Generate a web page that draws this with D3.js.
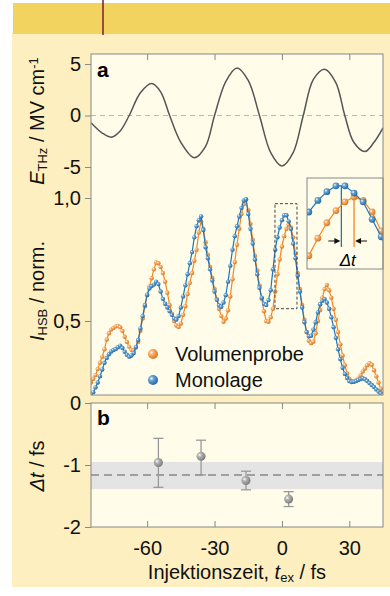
<!DOCTYPE html>
<html>
<head>
<meta charset="utf-8">
<script src="https://cdn.jsdelivr.net/npm/d3@7"></script>
<style>
  body { margin: 0; background: #fff; }
  svg { display: block; font-family: "Liberation Sans", Arial, sans-serif; }
</style>
</head>
<body>
<div id="chart"></div>
<script>
// THz field (fs, MV/cm)
var fieldTime = [-85, -80, -76, -72, -68, -63, -58, -54, -50, -45, -39, -34, -30, -25, -20, -15, -10, -5, 0, 5, 9.5, 14, 19, 24, 28, 32, 37, 41, 45];
var fieldValue = [-0.7, -1.7, -2.1, -1.5, 0, 2.2, 3.1, 2.3, 0, -2.6, -4.1, -3.0, 0, 3.3, 4.6, 3.4, 0, -3.6, -4.9, -3.6, 0, 3.5, 4.5, 3.2, 0, -2.6, -3.5, -2.6, -1.2];

// HSB intensity, sampled every 1 fs from -85 to 45 fs
var hsbTime = d3.range(-85, 46, 1);
var volumenprobe = [
  0.25, 0.265, 0.28, 0.305, 0.33, 0.355, 0.385, 0.425, 0.45, 0.465,
  0.472, 0.478, 0.48, 0.475, 0.46, 0.436, 0.415, 0.395, 0.383, 0.38,
  0.392, 0.416, 0.46, 0.51, 0.56, 0.605, 0.64, 0.674, 0.71, 0.738,
  0.735, 0.72, 0.695, 0.66, 0.615, 0.565, 0.53, 0.5, 0.482, 0.476,
  0.49, 0.525, 0.56, 0.61, 0.655, 0.695, 0.745, 0.79, 0.86, 0.905,
  0.875, 0.82, 0.77, 0.72, 0.675, 0.63, 0.59, 0.55, 0.52, 0.497,
  0.51, 0.543, 0.6, 0.67, 0.74, 0.81, 0.875, 0.935, 0.975, 0.993,
  0.95, 0.895, 0.83, 0.765, 0.705, 0.645, 0.59, 0.54, 0.5, 0.497,
  0.515, 0.55, 0.62, 0.69, 0.75, 0.803, 0.845, 0.875, 0.892, 0.88,
  0.84, 0.775, 0.695, 0.63, 0.565, 0.505, 0.455, 0.42, 0.41, 0.416,
  0.45, 0.5, 0.545, 0.595, 0.63, 0.647, 0.625, 0.595, 0.55, 0.505,
  0.455, 0.405, 0.36, 0.32, 0.287, 0.265, 0.255, 0.254, 0.258, 0.265,
  0.28, 0.295, 0.307, 0.32, 0.328, 0.322, 0.3, 0.275, 0.25, 0.225,
  0.2
];
var monolage = [
  0.19, 0.21, 0.23, 0.25, 0.275, 0.303, 0.33, 0.35, 0.365, 0.376,
  0.382, 0.386, 0.393, 0.4, 0.39, 0.375, 0.363, 0.355, 0.36, 0.37,
  0.395, 0.423, 0.47, 0.52, 0.565, 0.607, 0.632, 0.642, 0.648, 0.66,
  0.65, 0.62, 0.59, 0.57, 0.555, 0.54, 0.525, 0.51, 0.506, 0.52,
  0.555, 0.6, 0.645, 0.69, 0.735, 0.78, 0.84, 0.885, 0.91, 0.925,
  0.87, 0.8, 0.755, 0.71, 0.665, 0.62, 0.586, 0.563, 0.558, 0.575,
  0.605, 0.66, 0.725, 0.79, 0.845, 0.885, 0.925, 0.96, 0.99, 0.995,
  0.935, 0.875, 0.815, 0.75, 0.69, 0.635, 0.595, 0.57, 0.565, 0.585,
  0.625, 0.71, 0.79, 0.84, 0.88, 0.91, 0.93, 0.93, 0.905, 0.875,
  0.815, 0.755, 0.685, 0.62, 0.555, 0.495, 0.455, 0.438, 0.44, 0.465,
  0.495, 0.535, 0.568, 0.582, 0.589, 0.575, 0.55, 0.515, 0.475, 0.432,
  0.385, 0.345, 0.31, 0.285, 0.268, 0.256, 0.252, 0.253, 0.256, 0.26,
  0.264, 0.267, 0.263, 0.256, 0.248, 0.24, 0.232, 0.222, 0.213, 0.205,
  0.198
];

// peak positions shown in the inset (fs)
var peakMono = 1.6, peakVol = 3.0;
// zoom window marked by the dashed box
var boxTime = [-3.1, 6.7], boxHsb = [0.55, 0.977];

// panel b: delay per injection time
var bTime = [-55, -36, -16, 3];
var bDelay = [-0.96, -0.86, -1.25, -1.55];
var bErrLow = [-1.36, -1.16, -1.4, -1.67];
var bErrHigh = [-0.57, -0.6, -1.1, -1.43];
var bMean = -1.16, bBand = [-1.39, -0.95];

var xTicks = [-60, -30, 0, 30];

var orange = "#f5861f", blue = "#1f74ba";

var svg = d3.select("#chart").append("svg")
  .attr("width", 390).attr("height", 596);

// page background
svg.append("rect").attr("x", 12).attr("y", 32).attr("width", 378).attr("height", 555).attr("fill", "#fdefc0");
svg.append("rect").attr("x", 13).attr("y", 3).attr("width", 377).attr("height", 31).attr("fill", "#f3d35f");
svg.append("line").attr("x1", 103).attr("x2", 103).attr("y1", 0).attr("y2", 35)
  .attr("stroke", "#7a1e2c").attr("stroke-width", 1.5);

var defs = svg.append("defs");
function sphere(id, c) {
  var g = defs.append("radialGradient").attr("id", id)
    .attr("cx", "0.35").attr("cy", "0.35").attr("r", "0.7");
  g.append("stop").attr("offset", "0").attr("stop-color", "#ffffff");
  g.append("stop").attr("offset", "0.3").attr("stop-color", d3.interpolateRgb(c, "#fff")(0.35));
  g.append("stop").attr("offset", "1").attr("stop-color", d3.color(c).darker(0.4));
}
sphere("gOr", orange);
sphere("gBl", blue);
sphere("gGr", "#8a8a8a");

var L = 91, R = 383, aTop = 54, aBot = 395, bTop = 403, bBot = 527;

var x = d3.scaleLinear().domain([-85, 45]).range([L, R]);
var yE = d3.scaleLinear().domain([-5, 5]).range([167, 64]);
var yI = d3.scaleLinear().domain([0.5, 1]).range([321, 198]);
var yB = d3.scaleLinear().domain([-2, 0]).range([bBot, bTop]);

defs.append("clipPath").attr("id", "clipA").append("rect")
  .attr("x", L).attr("y", aTop).attr("width", R - L).attr("height", aBot - aTop);

// panels
svg.append("rect").attr("x", L).attr("y", aTop).attr("width", R - L).attr("height", aBot - aTop)
  .attr("fill", "#fffde9");
svg.append("rect").attr("x", L).attr("y", bTop).attr("width", R - L).attr("height", bBot - bTop)
  .attr("fill", "#fffde9");

var pa = svg.append("g").attr("clip-path", "url(#clipA)");

// zero line of field
pa.append("line").attr("x1", L).attr("x2", R).attr("y1", yE(0)).attr("y2", yE(0))
  .attr("stroke", "#b8b8b8").attr("stroke-dasharray", "5,4");

var fieldData = fieldTime.map(function (t, i) { return [t, fieldValue[i]]; });
pa.append("path").datum(fieldData)
  .attr("fill", "none").attr("stroke", "#555").attr("stroke-width", 1.5)
  .attr("d", d3.line().x(d => x(d[0])).y(d => yE(d[1])).curve(d3.curveCatmullRom));

function series(g, vals, color, grad, xs, ys, r) {
  var pts = hsbTime.map(function (t, i) { return [t, vals[i]]; });
  g.append("path").datum(pts)
    .attr("fill", "none").attr("stroke", color).attr("stroke-width", 1.2)
    .attr("d", d3.line().x(d => xs(d[0])).y(d => ys(d[1])));
  g.selectAll(null).data(pts).enter().append("circle")
    .attr("cx", d => xs(d[0])).attr("cy", d => ys(d[1])).attr("r", r)
    .attr("fill", "url(#" + grad + ")");
}
series(pa, volumenprobe, orange, "gOr", x, yI, 2.2);
series(pa, monolage, blue, "gBl", x, yI, 2.2);

// dashed zoom box
pa.append("rect")
  .attr("x", x(boxTime[0])).attr("y", yI(boxHsb[1]))
  .attr("width", x(boxTime[1]) - x(boxTime[0])).attr("height", yI(boxHsb[0]) - yI(boxHsb[1]))
  .attr("fill", "none").attr("stroke", "#444").attr("stroke-dasharray", "3,2");

// inset
var iL = 307, iR = 383, iT = 178, iB = 269;
var xi = d3.scaleLinear().domain([-2.2, 6.2]).range([iL, iR]);
var yi = d3.scaleLinear().domain([0.644, 0.957]).range([iB, iT]);
defs.append("clipPath").attr("id", "clipI").append("rect")
  .attr("x", iL).attr("y", iT).attr("width", iR - iL).attr("height", iB - iT);
svg.append("rect").attr("x", iL).attr("y", iT).attr("width", iR - iL).attr("height", iB - iT)
  .attr("fill", "#fffde9");
var gi = svg.append("g").attr("clip-path", "url(#clipI)");
var arrowY = 241;
gi.append("line").attr("x1", xi(peakMono)).attr("x2", xi(peakMono))
  .attr("y1", yi(0.93)).attr("y2", 247).attr("stroke", blue).attr("stroke-width", 1.3);
gi.append("line").attr("x1", xi(peakVol)).attr("x2", xi(peakVol))
  .attr("y1", yi(0.892)).attr("y2", 247).attr("stroke", orange).attr("stroke-width", 1.3);
series(gi, volumenprobe, orange, "gOr", xi, yi, 3.4);
series(gi, monolage, blue, "gBl", xi, yi, 3.4);
// arrows
var ax1 = xi(peakMono) - 1, ax2 = xi(peakVol) + 1;
gi.append("line").attr("x1", ax1 - 12).attr("x2", ax1 - 4).attr("y1", arrowY).attr("y2", arrowY)
  .attr("stroke", "#111").attr("stroke-width", 1);
gi.append("path").attr("d", "M" + ax1 + "," + arrowY + "l-6,-3l0,6z").attr("fill", "#111");
gi.append("line").attr("x1", ax2 + 4).attr("x2", ax2 + 12).attr("y1", arrowY).attr("y2", arrowY)
  .attr("stroke", "#111").attr("stroke-width", 1);
gi.append("path").attr("d", "M" + ax2 + "," + arrowY + "l6,-3l0,6z").attr("fill", "#111");
svg.append("text").attr("x", (xi(peakMono) + xi(peakVol)) / 2).attr("y", 266)
  .attr("text-anchor", "middle").style("font-size", "17px").style("font-style", "italic")
  .text("\u0394t");
svg.append("rect").attr("x", iL).attr("y", iT).attr("width", iR - iL).attr("height", iB - iT)
  .attr("fill", "none").attr("stroke", "#888");

// legend
var legend = [["Volumenprobe", "gOr", 354, 361], ["Monolage", "gBl", 380, 387]];
legend.forEach(function (d) {
  svg.append("circle").attr("cx", 153).attr("cy", d[2]).attr("r", 5).attr("fill", "url(#" + d[1] + ")");
  svg.append("text").attr("x", 175).attr("y", d[3]).style("font-size", "20px").attr("fill", "#111").text(d[0]);
});

// panel b
svg.append("rect").attr("x", L).attr("y", yB(bBand[1])).attr("width", R - L)
  .attr("height", yB(bBand[0]) - yB(bBand[1])).attr("fill", "#e4e4e4");
svg.append("line").attr("x1", L).attr("x2", R).attr("y1", yB(bMean)).attr("y2", yB(bMean))
  .attr("stroke", "#888").attr("stroke-width", 1.5).attr("stroke-dasharray", "8,5");
var bg = svg.append("g");
bTime.forEach(function (t, i) {
  var cx = x(t);
  bg.append("line").attr("x1", cx).attr("x2", cx).attr("y1", yB(bErrHigh[i])).attr("y2", yB(bErrLow[i]))
    .attr("stroke", "#999").attr("stroke-width", 1.3);
  [bErrHigh[i], bErrLow[i]].forEach(function (v) {
    bg.append("line").attr("x1", cx - 5).attr("x2", cx + 5).attr("y1", yB(v)).attr("y2", yB(v))
      .attr("stroke", "#999").attr("stroke-width", 1.3);
  });
  bg.append("circle").attr("cx", cx).attr("cy", yB(bDelay[i])).attr("r", 4.5).attr("fill", "url(#gGr)");
});

// frames
[[aTop, aBot], [bTop, bBot]].forEach(function (p) {
  svg.append("rect").attr("x", L).attr("y", p[0]).attr("width", R - L).attr("height", p[1] - p[0])
    .attr("fill", "none").attr("stroke", "#888");
});

// axes
function style(g) {
  g.select(".domain").remove();
  g.selectAll(".tick line").attr("stroke", "#888");
  g.selectAll(".tick text").style("font-size", "20px").attr("fill", "#111")
    .style("font-family", "'Liberation Sans', Arial, sans-serif");
}
svg.append("g").attr("transform", "translate(0," + aTop + ")")
  .call(d3.axisTop(x).tickValues(xTicks).tickSize(-6).tickFormat("")).call(style);
svg.append("g").attr("transform", "translate(0," + bTop + ")")
  .call(d3.axisTop(x).tickValues(xTicks).tickSize(-6).tickFormat("")).call(style);
svg.append("g").attr("transform", "translate(0," + bBot + ")")
  .call(d3.axisBottom(x).tickValues(xTicks).tickSizeInner(-6).tickSizeOuter(0).tickPadding(14)
    .tickFormat(d => String(d).replace("\u2212", "-"))).call(style)
  .selectAll(".tick text").attr("dy", "0.71em");

var fmtComma = d => d3.format(".1f")(d).replace(".", ",");
svg.append("g").attr("transform", "translate(" + L + ",0)")
  .call(d3.axisLeft(yE).tickValues([5, 0, -5]).tickSize(6).tickPadding(4).tickFormat(d => String(d))).call(style);
svg.append("g").attr("transform", "translate(" + L + ",0)")
  .call(d3.axisLeft(yI).tickValues([1, 0.5]).tickSize(6).tickPadding(4).tickFormat(fmtComma)).call(style);
svg.append("g").attr("transform", "translate(" + L + ",0)")
  .call(d3.axisLeft(yB).tickValues([0, -1, -2]).tickSize(6).tickPadding(4).tickFormat(d => String(d))).call(style);

// panel letters
svg.append("text").attr("x", 97).attr("y", 77).style("font-size", "21px").style("font-weight", "bold").text("a");
svg.append("text").attr("x", 97).attr("y", 425).style("font-size", "21px").style("font-weight", "bold").text("b");

// axis titles
function ylab(cy, parts) {
  var t = svg.append("text").attr("transform", "translate(44," + cy + ") rotate(-90)")
    .attr("text-anchor", "middle").style("font-size", "20px").attr("fill", "#111");
  parts.forEach(function (p) {
    var s = t.append("tspan").text(p.t);
    if (p.i) s.style("font-style", "italic");
    if (p.sub) s.attr("baseline-shift", "-25%").style("font-size", "13px");
    if (p.sup) s.attr("baseline-shift", "45%").style("font-size", "13px");
  });
}
ylab(121, [{ t: "E", i: 1 }, { t: "THz", sub: 1 }, { t: " / MV cm" }, { t: "-1", sup: 1 }]);
ylab(291, [{ t: "I", i: 1 }, { t: "HSB", sub: 1 }, { t: " / norm." }]);
ylab(466, [{ t: "\u0394t", i: 1 }, { t: " / fs" }]);

var xl = svg.append("text").attr("x", (L + R) / 2).attr("y", 579).attr("text-anchor", "middle")
  .style("font-size", "20px").attr("fill", "#111");
xl.append("tspan").text("Injektionszeit, ");
xl.append("tspan").style("font-style", "italic").text("t");
xl.append("tspan").attr("baseline-shift", "-25%").style("font-size", "13px").text("ex");
xl.append("tspan").text(" / fs");
</script>
</body>
</html>
